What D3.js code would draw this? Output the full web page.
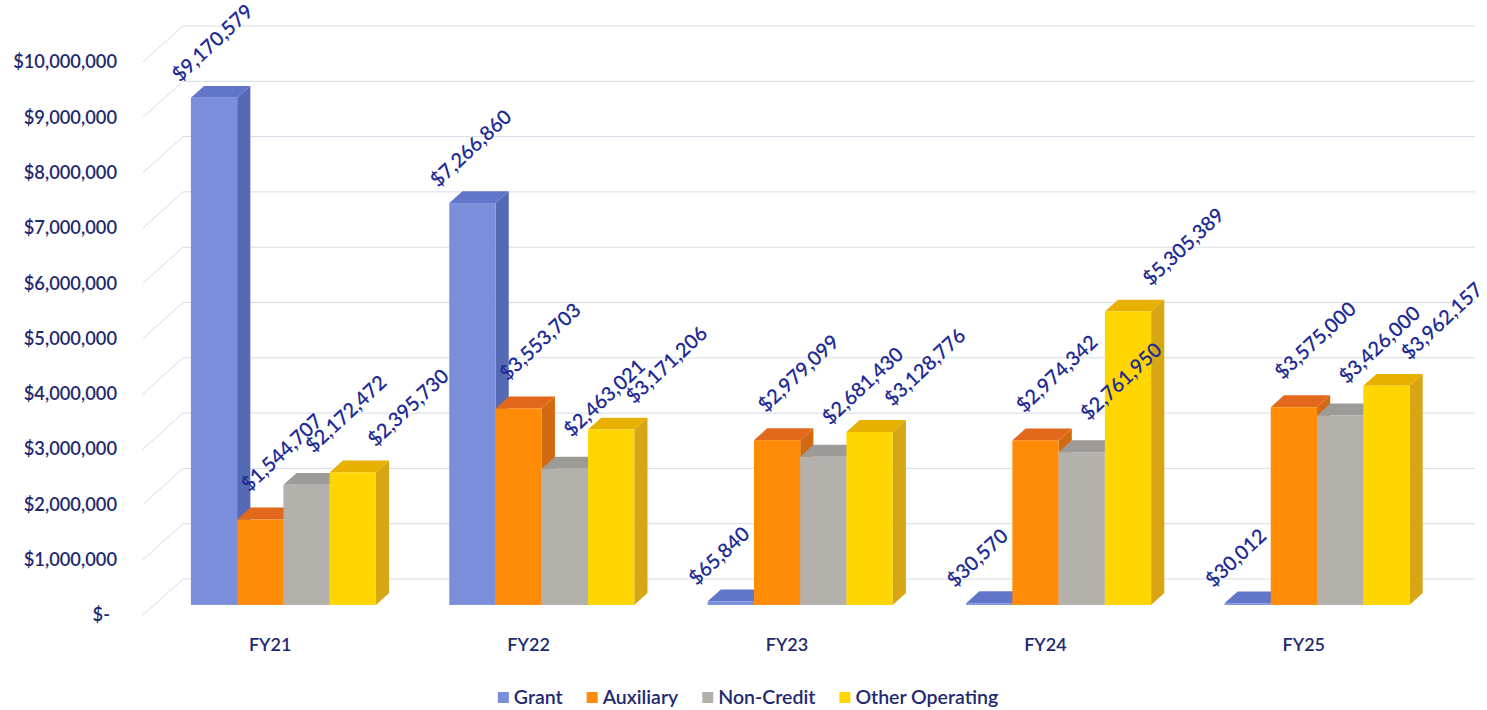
<!DOCTYPE html>
<html>
<head>
<meta charset="utf-8">
<script src="https://cdn.jsdelivr.net/npm/d3@7/dist/d3.min.js"></script>
<style>
  body { margin: 0; background: #fff; }
  svg text { font-family: Lato, "Open Sans", sans-serif; font-weight: 600; }
</style>
</head>
<body>
<svg id="chart" width="1487" height="710"></svg>
<script>
'use strict';

// values
var categories = ['FY21', 'FY22', 'FY23', 'FY24', 'FY25'];
var seriesNames = ['Grant', 'Auxiliary', 'Non-Credit', 'Other Operating'];

var grant          = [9170579, 7266860, 65840, 30570, 30012];
var auxiliary      = [1544707, 3553703, 2979099, 2974342, 3575000];
var nonCredit      = [2172472, 2463021, 2681430, 2761950, 3426000];
var otherOperating = [2395730, 3171206, 3128776, 5305389, 3962157];

var yTicks = [0, 1000000, 2000000, 3000000, 4000000, 5000000,
              6000000, 7000000, 8000000, 9000000, 10000000];

var seriesValues = [grant, auxiliary, nonCredit, otherOperating];

// face colours per series: front, top, side
var palette = [
  { front: '#7a8edb', top: '#6276c9', side: '#5569b4' },
  { front: '#ff8b07', top: '#e2691c', side: '#d26a12' },
  { front: '#b4b1ac', top: '#9d9b98', side: '#a2a09c' },
  { front: '#ffd600', top: '#e8b100', side: '#d8a514' }
];

var axisColor = '#1f2a70';
var labelColor = '#1e2c95';
var gridColor = '#d6dce6';

// front plane of the floor, the back wall sits one depth unit behind it
var plot = { left: 143, right: 1435, base: 615, top: 62 };
var depth = { dx: 40, dy: -36 };
var barDepth = [0.28, 0.61];

// where each series' rotated label starts, from the bar's front top-left corner
var labelShift = [[-11, -15], [12, -27], [30, -31], [46, -25]];

var svg = d3.select('#chart');

var x0 = d3.scaleBand()
  .domain(categories)
  .range([plot.left, plot.right])
  .paddingInner(0.284)
  .paddingOuter(0.142);

var x1 = d3.scaleBand()
  .domain(seriesNames)
  .range([0, x0.bandwidth()]);

var y = d3.scaleLinear()
  .domain([0, 10000000])
  .range([plot.base, plot.top]);

// oblique projection: push a front-plane point t units back
function project(px, py, t) {
  return [px + depth.dx * t, py + depth.dy * t];
}

function poly(points) {
  return 'M' + points.map(function(p) { return p[0] + ',' + p[1]; }).join('L') + 'Z';
}

var money = d3.format(',');
function fmt(v) { return v === 0 ? '$-' : '$' + money(v); }

// walls: back gridlines and the diagonals on the left side wall
var grid = svg.append('g').attr('class', 'grid')
  .attr('stroke', gridColor)
  .attr('stroke-width', 1);

yTicks.forEach(function(v) {
  var a = project(plot.left, y(v), 1);
  var b = project(plot.right, y(v), 1);
  grid.append('line')
    .attr('x1', a[0]).attr('y1', a[1])
    .attr('x2', b[0]).attr('y2', b[1]);

  grid.append('line')
    .attr('x1', plot.left).attr('y1', y(v))
    .attr('x2', a[0]).attr('y2', a[1]);
});

// value axis labels at the front edge
var yAxis = d3.axisLeft(y)
  .tickValues(yTicks)
  .tickFormat(fmt)
  .tickSize(0)
  .tickPadding(0);

var yAxisG = svg.append('g')
  .attr('transform', 'translate(117,0)')
  .call(yAxis);

yAxisG.select('.domain').remove();
yAxisG.selectAll('text')
  .attr('fill', axisColor)
  .style('font-size', '18.3px')
  .style('font-family', 'Lato, sans-serif')
  .style('font-weight', 600)
  .attr('dx', function(d) { return d === 0 ? -7 : 0; });

// bars, drawn left to right so each front face hides the previous side
var bars = svg.append('g').attr('class', 'bars');
var labels = svg.append('g').attr('class', 'labels');

categories.forEach(function(cat, ci) {
  seriesNames.forEach(function(name, si) {
    var v = seriesValues[si][ci];
    var col = palette[si];
    var xl = x0(cat) + x1(name);
    var xr = xl + x1.bandwidth();
    var f = barDepth[0], b = barDepth[1];
    var yt = y(v), yb = y(0);

    var g = bars.append('g').attr('class', 'bar');

    g.append('path')
      .attr('d', poly([project(xr, yt, f), project(xr, yt, b), project(xr, yb, b), project(xr, yb, f)]))
      .attr('fill', col.side);

    g.append('path')
      .attr('d', poly([project(xl, yt, f), project(xr, yt, f), project(xr, yt, b), project(xl, yt, b)]))
      .attr('fill', col.top);

    var tl = project(xl, yt, f);
    var br = project(xr, yb, f);
    g.append('rect')
      .attr('x', tl[0]).attr('y', tl[1])
      .attr('width', br[0] - tl[0])
      .attr('height', Math.max(0, br[1] - tl[1]))
      .attr('fill', col.front);

    // rotated data label above the bar
    var lx = tl[0] + labelShift[si][0];
    var ly = tl[1] + labelShift[si][1];
    labels.append('text')
      .attr('transform', 'translate(' + lx + ',' + ly + ') rotate(-43)')
      .attr('fill', labelColor)
      .style('font-size', '20px')
      .text(fmt(v));
  });
});

// category labels
var xAxisG = svg.append('g').attr('class', 'x-axis');
categories.forEach(function(cat) {
  xAxisG.append('text')
    .attr('x', x0(cat) + x0.bandwidth() / 2 - 2)
    .attr('y', plot.base + 36)
    .attr('text-anchor', 'middle')
    .attr('fill', axisColor)
    .style('font-size', '18px')
    .text(cat);
});

// legend, centred under the plot
var legend = svg.append('g').attr('class', 'legend');
var items = legend.selectAll('g')
  .data(seriesNames)
  .enter().append('g');

items.append('rect')
  .attr('width', 11).attr('height', 11)
  .attr('y', -12)
  .attr('fill', function(d, i) { return palette[i].front; });

items.append('text')
  .attr('x', 16)
  .attr('y', 0)
  .attr('fill', axisColor)
  .style('font-size', '19.5px')
  .text(function(d) { return d; });

var offset = 0;
items.each(function() {
  var node = d3.select(this);
  node.attr('transform', 'translate(' + offset + ',0)');
  offset += 16 + node.select('text').node().getComputedTextLength() + 24;
});
offset -= 24;

legend.attr('transform', 'translate(' + (748 - offset / 2) + ',704)');
</script>
</body>
</html>
